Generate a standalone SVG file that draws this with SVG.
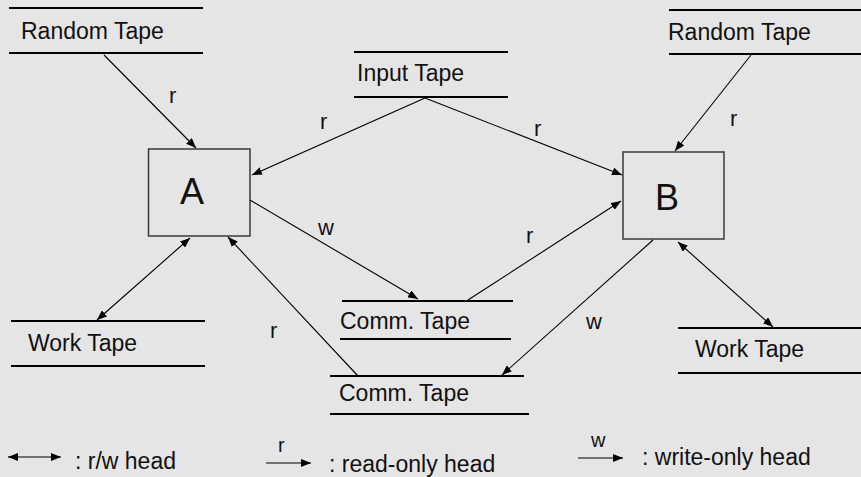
<svg xmlns="http://www.w3.org/2000/svg" width="861" height="477" viewBox="0 0 861 477">
<defs>
<marker id="ah" viewBox="0 0 10 8" refX="10" refY="4" markerWidth="10" markerHeight="8" markerUnits="userSpaceOnUse" orient="auto-start-reverse">
<path d="M0,0 L10,4 L0,8 z" fill="#000"/>
</marker>
<style>
text{font-family:"Liberation Sans",Arial,sans-serif;fill:#111;}
.t{font-size:23px;}
.big{font-size:36px;}
.lab{font-size:22px;}
.small{font-size:20px;}
.tape{stroke:#000;stroke-width:2.2;fill:none;}
.box{fill:none;stroke:#3a3a3a;stroke-width:1.5;}
.c{stroke:#000;stroke-width:1.1;fill:none;marker-end:url(#ah);}
.d{stroke:#000;stroke-width:1.1;fill:none;marker-end:url(#ah);marker-start:url(#ah);}
</style>
</defs>
<rect width="861" height="477" fill="#e5e5e5"/>
<g id="randomTapeL">
<line class="tape" x1="9" y1="8" x2="203" y2="8"/><line class="tape" x1="9" y1="53" x2="203" y2="53"/>
<text class="t" x="21" y="39">Random Tape</text>
</g>
<g id="inputTape">
<line class="tape" x1="354" y1="52" x2="508" y2="52"/><line class="tape" x1="354" y1="97" x2="508" y2="97"/>
<text class="t" x="357" y="81">Input Tape</text>
</g>
<g id="randomTapeR">
<line class="tape" x1="669" y1="10" x2="861" y2="10"/><line class="tape" x1="669" y1="54" x2="861" y2="54"/>
<text class="t" x="668" y="40">Random Tape</text>
</g>
<g id="A">
<rect class="box" x="148.5" y="149" width="101.5" height="87"/>
<text class="big" x="180" y="204">A</text>
</g>
<g id="B">
<rect class="box" x="623" y="152" width="101" height="87"/>
<text class="big" x="655" y="210">B</text>
</g>
<g id="workTapeL">
<line class="tape" x1="11" y1="321" x2="205" y2="321"/><line class="tape" x1="11" y1="366" x2="205" y2="366"/>
<text class="t" x="28" y="351">Work Tape</text>
</g>
<g id="workTapeR">
<line class="tape" x1="678" y1="328" x2="861" y2="328"/><line class="tape" x1="678" y1="373" x2="861" y2="373"/>
<text class="t" x="695" y="357">Work Tape</text>
</g>
<g id="commTape1">
<line class="tape" x1="342" y1="301" x2="513" y2="301"/><line class="tape" x1="340" y1="339" x2="511" y2="339"/>
<text class="t" x="340" y="329">Comm. Tape</text>
</g>
<g id="commTape2">
<line class="tape" x1="330" y1="376" x2="524" y2="376"/><line class="tape" x1="330" y1="414" x2="529" y2="414"/>
<text class="t" x="339" y="401">Comm. Tape</text>
</g>
<g id="connectors">
<line class="c" x1="104" y1="55" x2="196" y2="148"/>
<line class="c" x1="425" y1="98" x2="252" y2="175"/>
<line class="c" x1="425" y1="98" x2="622" y2="175"/>
<line class="c" x1="751" y1="55" x2="675" y2="151"/>
<line class="c" x1="250" y1="200" x2="418" y2="299"/>
<line class="c" x1="468" y1="300" x2="621" y2="201"/>
<line class="c" x1="653" y1="240" x2="502" y2="375"/>
<line class="c" x1="358" y1="376" x2="228" y2="237"/>
<line class="d" x1="97" y1="320" x2="190" y2="238"/>
<line class="d" x1="678" y1="242" x2="773" y2="327"/>
<text class="lab" x="169" y="103">r</text>
<text class="lab" x="320" y="129">r</text>
<text class="lab" x="534" y="136">r</text>
<text class="lab" x="730" y="126">r</text>
<text class="lab" x="318" y="235">w</text>
<text class="lab" x="526" y="243">r</text>
<text class="lab" x="586" y="329">w</text>
<text class="lab" x="270" y="338">r</text>
</g>
<g id="legend">
<line class="d" x1="8" y1="457" x2="61" y2="457"/>
<text class="t" x="75" y="469">: r/w head</text>
<line class="c" x1="266" y1="463" x2="311" y2="463"/>
<text class="small" x="278" y="452">r</text>
<text class="t" x="329" y="472">: read-only head</text>
<line class="c" x1="578" y1="458" x2="623" y2="458"/>
<text class="small" x="591" y="447">w</text>
<text class="t" x="642" y="465">: write-only head</text>
</g>
</svg>
